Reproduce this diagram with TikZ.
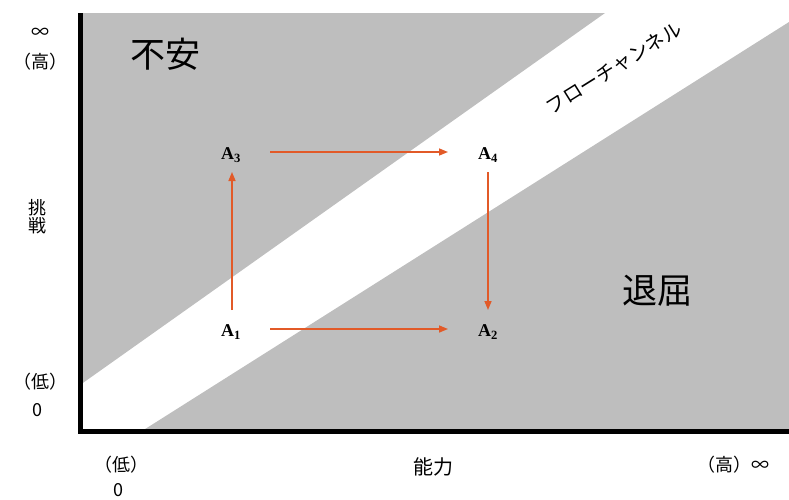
\documentclass[tikz,border=0pt]{standalone}
\usepackage{fontspec}
\usetikzlibrary{arrows.meta}
\newfontfamily\jp{Noto Sans CJK JP}
\newfontfamily\apfont{Liberation Serif}
\definecolor{bandgray}{RGB}{190,190,190}
\definecolor{arrorange}{RGB}{226,90,40}
\begin{document}
\begin{tikzpicture}[x=1pt,y=-1pt,
  lbl/.style={font=\jp\fontsize{18}{20}\selectfont, inner sep=1pt},
  big/.style={font=\jp\fontsize{35}{37}\selectfont, inner sep=0pt},
  apt/.style={font=\apfont\bfseries\fontsize{18}{20}\selectfont, inner sep=2pt},
  arr/.style={draw=arrorange, line width=1.5pt, -{Triangle[length=9pt,width=7pt]}}]
\useasboundingbox (0,0) rectangle (789,499);
% regions
\fill[bandgray] (80,13) -- (605,13) -- (80,385) -- cycle;
\fill[bandgray] (142,431) -- (789,22) -- (789,431) -- cycle;
% axes
\draw[line width=5pt] (80,13) -- (80,431) -- (789,431);
% region labels
\node[big] (fuan) at (165,54) {不安};
\node[big] (taikutsu) at (657,291) {退屈};
\node[font=\jp\fontsize{19.5}{21}\selectfont, rotate=32, inner sep=0pt] (flow) at (614,68) {フローチャンネル};
% axis labels
\node[lbl] (inf1) at (40,33) {∞};
\node[lbl] (hi1) at (40,62) {（高）};
\node[lbl, align=center] (chosen) at (37,217) {挑\\[-2pt]戦};
\node[lbl] (lo1) at (40,382) {（低）};
\node[lbl] (z1) at (37,410) {0};
\node[lbl] (lo2) at (121,465) {（低）};
\node[lbl] (z2) at (118,490) {0};
\node[font=\jp\fontsize{20}{22}\selectfont] (noryoku) at (433,467) {能力};
\node[lbl] (hi2) at (733,465) {（高）∞};
% points
\node[apt] (A3) at (231,155) {A\textsubscript{3}};
\node[apt] (A4) at (488,155) {A\textsubscript{4}};
\node[apt] (A1) at (231,332) {A\textsubscript{1}};
\node[apt] (A2) at (488,332) {A\textsubscript{2}};
% arrows
\draw[arr, shorten <=39pt, shorten >=40pt] ([yshift=3pt]A3.center) -- ([yshift=3pt]A4.center);
\draw[arr, shorten <=39pt, shorten >=40pt] ([yshift=3pt]A1.center) -- ([yshift=3pt]A2.center);
\draw[arr, shorten <=22pt, shorten >=17pt] ([xshift=1pt]A1.center) -- ([xshift=1pt]A3.center);
\draw[arr, shorten <=17pt, shorten >=22pt] (A4.center) -- (A2.center);
\end{tikzpicture}
\end{document}
